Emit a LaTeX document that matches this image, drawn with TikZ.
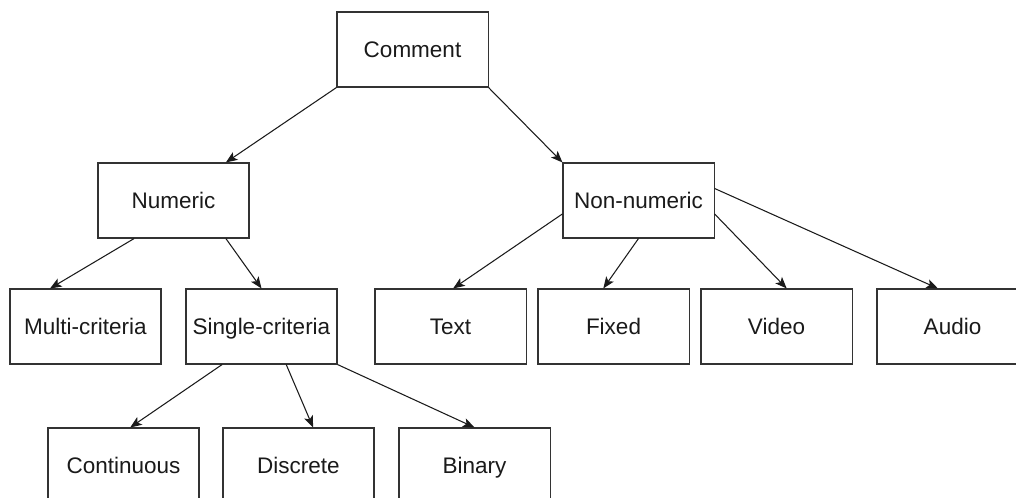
\documentclass[tikz,border=0pt]{standalone}
\usepackage{fontspec}
\setmainfont{Liberation Sans}
\usetikzlibrary{arrows.meta}
\definecolor{ink}{HTML}{1A1A1A}
\definecolor{edge}{HTML}{333333}
\tikzset{
  catbox/.style={rectangle,draw=edge,line width=.75pt,fill=white,
    minimum width=3.775cm,minimum height=1.875cm,inner sep=0pt,
    text height=12pt,text depth=1pt,
    text=ink,font=\fontsize{16}{19}\selectfont},
  arc/.style={-{Stealth[length=2.9mm,width=2.3mm,inset=.7mm]},draw=ink,line width=.75pt},
}
\begin{document}
\begin{tikzpicture}[x=.025cm,y=-.025cm]
\useasboundingbox (0,0) rectangle (1016,498);
\node[catbox] (comment) at (412.5,49.5) {Comment};
\node[catbox] (numeric) at (173.5,200.5) {Numeric};
\node[catbox] (nonnumeric) at (638.5,200.5) {Non-numeric};
\node[catbox] (multi) at (85.5,326.5) {Multi-criteria};
\node[catbox] (single) at (261.5,326.5) {Single-criteria};
\node[catbox] (txt) at (450.5,326.5) {Text};
\node[catbox] (fixed) at (613.5,326.5) {Fixed};
\node[catbox] (video) at (776.5,326.5) {Video};
\node[catbox] (audio) at (952.5,326.5) {Audio};
\node[catbox] (continuous) at (123.5,465.5) {Continuous};
\node[catbox] (discrete) at (298.5,465.5) {Discrete};
\node[catbox] (binary) at (474.5,465.5) {Binary};
\foreach \a/\b in {comment.south west/numeric.36,comment.south east/nonnumeric.north west,
  numeric.224/multi.133.6,numeric.-36.6/single.north,
  single.224/continuous.80,single.-57/discrete.69,single.south east/binary.north,
  nonnumeric.190/txt.86,nonnumeric.south/fixed.105.6,
  nonnumeric.-10.9/video.75,nonnumeric.9.4/audio.111}
  \draw[arc] (\a) -- (\b);
\end{tikzpicture}
\end{document}
